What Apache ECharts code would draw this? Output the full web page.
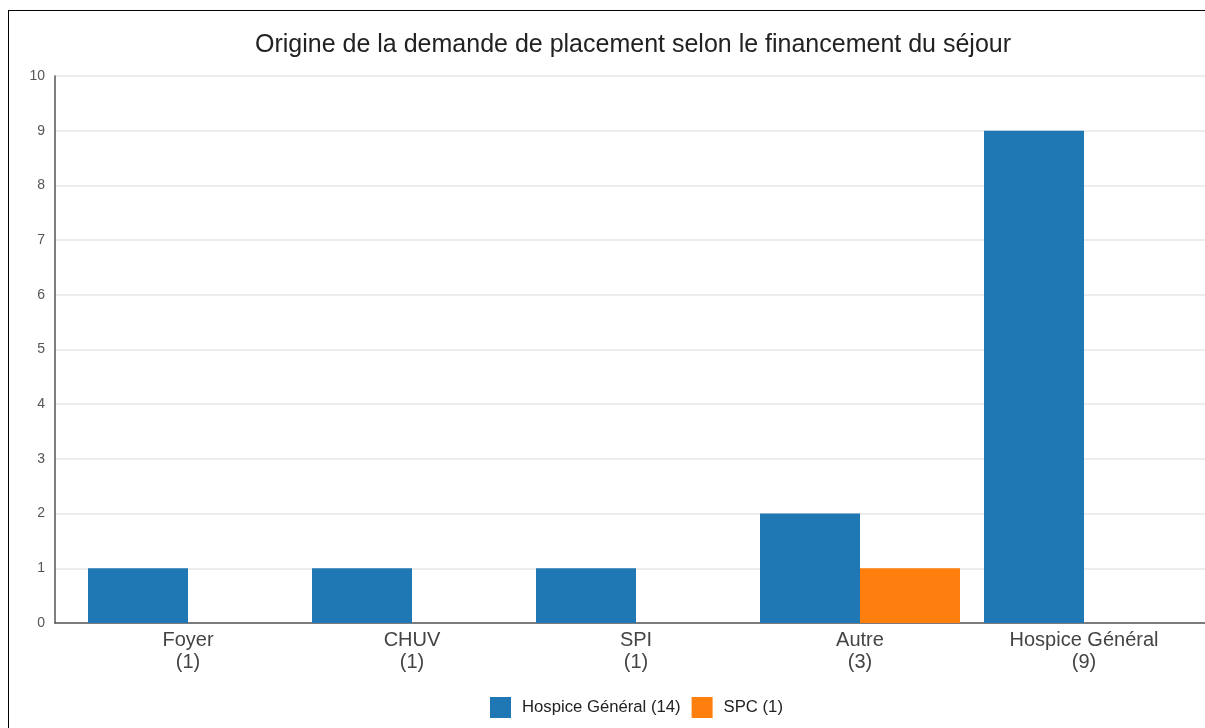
<!DOCTYPE html>
<html>
<head>
<meta charset="utf-8">
<script src="https://cdn.jsdelivr.net/npm/echarts@6/dist/echarts.min.js"></script>
<style>
  html, body { margin: 0; padding: 0; background: #fff; }
  #chart { position: absolute; left: 0; top: 0; width: 1205px; height: 728px; }
  #frame { position: absolute; left: 8px; top: 10px; width: 1300px; height: 800px;
           border: 1px solid #000; pointer-events: none; }
</style>
</head>
<body>
<div id="chart"></div>
<div id="frame"></div>
<script>
const categories = ['Foyer', 'CHUV', 'SPI', 'Autre', 'Hospice Général'];
const categoryTotals = [1, 1, 1, 3, 9];
const hospiceValues = [1, 1, 1, 2, 9];
const spcValues = [0, 0, 0, 1, 0];
const yTicks = [0, 1, 2, 3, 4, 5, 6, 7, 8, 9, 10];

const sum = arr => arr.reduce((a, b) => a + b, 0);
const hospiceName = 'Hospice Général (' + sum(hospiceValues) + ')';
const spcName = 'SPC (' + sum(spcValues) + ')';
const xLabels = categories.map((c, i) => c + '\n(' + categoryTotals[i] + ')');

const chart = echarts.init(document.getElementById('chart'));

const option = {
    animation: false,
    textStyle: { fontFamily: 'Liberation Sans, Arial, sans-serif' },
    title: {
        text: 'Origine de la demande de placement selon le financement du séjour',
        left: 250,
        top: 28,
        textStyle: { fontSize: 25, fontWeight: 'normal', color: '#222' }
    },
    legend: {
        data: [hospiceName, spcName],
        left: 485,
        top: 692,
        itemWidth: 21,
        itemHeight: 21,
        itemGap: 11,
        icon: 'rect',
        textStyle: { fontSize: 16.7, color: '#222', padding: [0, 0, 0, 6] }
    },
    grid: [
        { left: 55, right: 0, top: 76, bottom: 105 },
        { left: 76, right: 9, top: 76, bottom: 105 }
    ],
    xAxis: [
        {
            gridIndex: 0,
            type: 'category',
            data: categories,
            axisLine: { lineStyle: { color: '#555', width: 1.5 } },
            axisTick: { show: false },
            axisLabel: { show: false }
        },
        {
            gridIndex: 1,
            type: 'category',
            data: xLabels,
            axisLine: { show: false },
            axisTick: { show: false },
            axisLabel: { fontSize: 20, color: '#444', lineHeight: 22, margin: 6 }
        }
    ],
    yAxis: [
        {
            gridIndex: 0,
            type: 'value',
            min: yTicks[0],
            max: yTicks[yTicks.length - 1],
            interval: 1,
            axisLine: { show: true, lineStyle: { color: '#555', width: 1.5 } },
            axisTick: { show: false },
            axisLabel: { fontSize: 14, color: '#555', margin: 10 },
            splitLine: { lineStyle: { color: '#e6e6e6', width: 1.5 } }
        },
        {
            gridIndex: 1,
            type: 'value',
            min: yTicks[0],
            max: yTicks[yTicks.length - 1],
            interval: 1,
            show: false,
            splitLine: { show: false }
        }
    ],
    series: [
        {
            name: hospiceName,
            type: 'bar',
            xAxisIndex: 1,
            yAxisIndex: 1,
            data: hospiceValues,
            barWidth: 100,
            barGap: '0%',
            itemStyle: { color: '#1f77b4' }
        },
        {
            name: spcName,
            type: 'bar',
            xAxisIndex: 1,
            yAxisIndex: 1,
            data: spcValues,
            barWidth: 100,
            barGap: '0%',
            itemStyle: { color: '#ff7f0e' }
        }
    ]
};

chart.setOption(option);
</script>
</body>
</html>
